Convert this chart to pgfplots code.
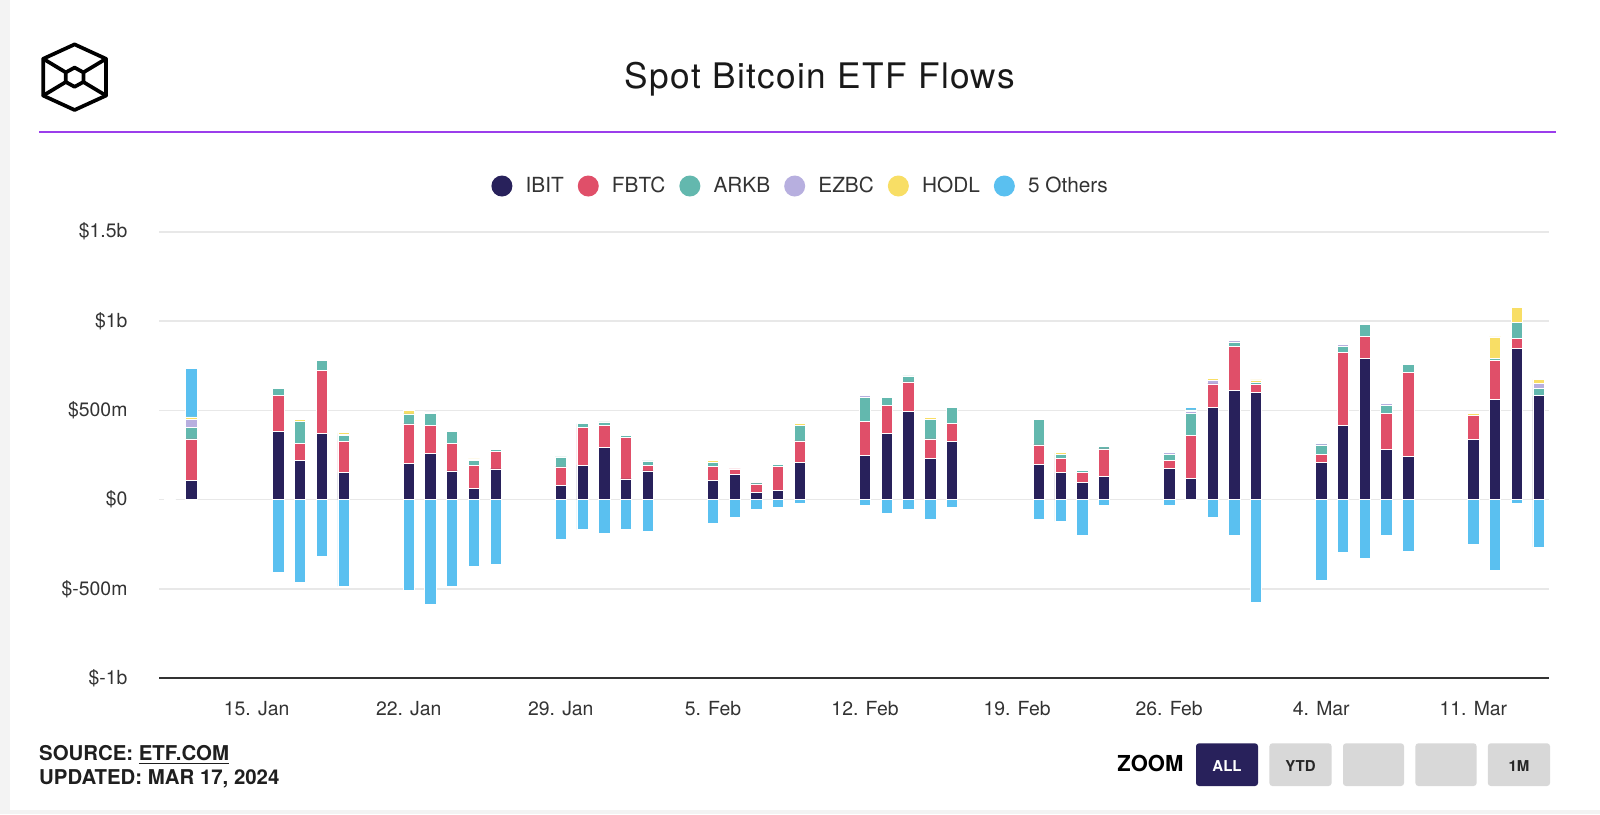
\documentclass[border=0pt]{standalone}
\usepackage{pgfplots}
\pgfplotsset{compat=1.18}
\usepackage{pgfplotstable}
\usepackage{fontspec}
\setmainfont{TeX Gyre Heros}
\definecolor{ibit}{HTML}{28215B}
\definecolor{fbtc}{HTML}{E04F69}
\definecolor{arkb}{HTML}{63B8AE}
\definecolor{ezbc}{HTML}{B7AFDF}
\definecolor{hodl}{HTML}{F8DE65}
\definecolor{others}{HTML}{5AC0F0}
\definecolor{purp}{HTML}{9B3EEB}
\definecolor{txt}{HTML}{333333}
\definecolor{gridc}{HTML}{E8E8E8}
\definecolor{btn}{HTML}{D8D8D8}
\definecolor{pagebg}{HTML}{F3F3F3}

% day = day of year 2024 (Jan 1 = 1), values in $ millions
\pgfplotstableread{
day IBIT FBTC ARKB EZBC HODL OthPos OthNeg
11 0 0 8 0 0 0 0
12 106 234 65 45 13 271 0
16 383 199 43 0 0 0 -407
17 218 99 122 0 9 0 -465
18 370 354 54 0 0 0 -319
19 151 176 33 7 8 0 -485
22 205 219 56 0 20 0 -510
23 261 153 68 9 0 0 -586
24 161 154 68 0 0 0 -487
25 62 132 24 0 10 0 -375
26 172 99 11 0 0 0 -364
29 82 101 56 0 0 0 -222
30 194 209 23 0 0 0 -168
31 291 123 21 0 0 0 -190
32 116 231 11 0 0 0 -168
33 161 33 23 0 0 0 -180
36 106 81 22 0 9 0 -131
37 140 32 0 0 0 0 -99
38 39 49 9 0 0 0 -54
39 50 137 9 0 0 0 -43
40 207 122 87 0 10 0 -21
43 250 189 132 11 0 0 -32
44 372 154 45 0 0 0 -75
45 493 166 34 0 0 0 -54
46 230 110 110 0 11 0 -108
47 325 101 89 0 0 0 -43
51 196 110 144 0 0 0 -110
52 151 81 20 0 11 0 -121
53 95 58 9 0 0 0 -200
54 129 155 13 0 0 0 -32
57 174 44 34 11 0 0 -32
58 118 242 124 9 9 13 0
59 515 133 0 20 11 0 -99
60 612 245 24 10 0 0 -200
61 601 45 9 0 15 0 -573
64 207 47 52 10 0 0 -452
65 416 409 35 9 0 0 -297
66 790 122 67 0 0 0 -330
67 282 200 44 12 0 0 -200
68 241 472 43 0 0 0 -288
71 338 132 0 0 11 0 -252
72 560 220 10 0 121 0 -396
73 846 56 88 0 85 0 -22
74 583 0 42 25 22 0 -265
}\flows

\begin{document}
\begin{tikzpicture}
\begin{scope}[x=1pt,y=1pt]
\path[use as bounding box, fill=pagebg] (0,0) rectangle (800,407);
\fill[white] (5,2) rectangle (800,407);
% logo
\begin{scope}[shift={(37.3,368.4)}, line width=1.85pt, line join=round, line cap=round]
\draw (0,16.4) -- (15.7,9.2) -- (15.7,-9.2) -- (0,-16.4) -- (-15.7,-9.2) -- (-15.7,9.2) -- cycle;
\draw (0,4.8) -- (4.4,2.4) -- (4.4,-2.4) -- (0,-4.8) -- (-4.4,-2.4) -- (-4.4,2.4) -- cycle;
\draw (-15.7,9.2) -- (-4.4,2.4);
\draw (15.7,9.2) -- (4.4,2.4);
\draw (-15.7,-9.2) -- (-4.4,-2.4);
\draw (15.7,-9.2) -- (4.4,-2.4);
\end{scope}
% title
\node[anchor=base, inner sep=0, text={black!90}, font=\fontsize{17.6pt}{21pt}\selectfont\addfontfeature{LetterSpace=4}] at (410,362.5) {Spot Bitcoin ETF Flows};
\draw[purp, line width=1pt] (19.65,341.15) -- (778,341.15);
% footer
\node[anchor=base west, inner sep=0, text={black!88}, font=\bfseries\fontsize{10.2pt}{12pt}\selectfont] at (19.4,27) {SOURCE: \underline{ETF.COM}};
\node[anchor=base west, inner sep=0, text={black!88}, font=\bfseries\fontsize{10.2pt}{12pt}\selectfont] at (19.4,15) {UPDATED: MAR 17, 2024};
\node[anchor=base west, inner sep=0, text=black, font=\bfseries\fontsize{11pt}{13pt}\selectfont] at (558.5,21.15) {ZOOM};
\fill[ibit, rounded corners=1.5pt] (598,14) rectangle (629,35.35);
\fill[btn, rounded corners=1.5pt] (634.7,14) rectangle (665.8,35.35);
\fill[btn, rounded corners=1.5pt] (671.5,14) rectangle (702,35.35);
\fill[btn, rounded corners=1.5pt] (707.7,14) rectangle (738.3,35.35);
\fill[btn, rounded corners=1.5pt] (743.9,14) rectangle (775,35.35);
\node[anchor=base, inner sep=0, text=white, font=\bfseries\fontsize{7.5pt}{9pt}\selectfont] at (613.5,21.15) {ALL};
\node[anchor=base, inner sep=0, text={black!85}, font=\bfseries\fontsize{7.5pt}{9pt}\selectfont] at (650.25,21.15) {YTD};
\node[anchor=base, inner sep=0, text={black!85}, font=\bfseries\fontsize{7.5pt}{9pt}\selectfont] at (759.45,21.15) {1M};
\end{scope}

\begin{axis}[
  at={(79.65pt,67.85pt)}, anchor=south west,
  scale only axis, width=694.85pt, height=223.3pt,
  xmin=10.52, xmax=74.48, ymin=-1000, ymax=1500,
  ybar stacked, bar width=0.52,
  separate axis lines,
  axis x line*=bottom, axis y line*=left,
  y axis line style={draw=none},
  x axis line style={draw=txt, line width=1pt},
  ytick={-1000,-500,0,500,1000,1500},
  yticklabels={\$-1b,\$-500m,\$0,\$500m,\$1b,\$1.5b},
  ymajorgrids, grid style={gridc, line width=0.8pt},
  xtick={15,22,29,36,43,50,57,64,71},
  xticklabels={15. Jan,22. Jan,29. Jan,5. Feb,12. Feb,19. Feb,26. Feb,4. Mar,11. Mar},
  major tick length=0pt,
  tick label style={font=\fontsize{9.7pt}{11pt}\selectfont, text=txt},
  yticklabel style={xshift=-12.4pt},
  xticklabel style={yshift=-8.2pt},
  every axis plot/.append style={draw=white, line width=0.35pt},
  legend columns=6,
  legend style={draw=none, fill=none, at={(0.4622,1.1023)}, anchor=center,
    font=\fontsize{10.4pt}{12pt}\selectfont, text=txt,
    /tikz/every odd column/.append style={column sep=4.6pt},
    /tikz/every even column/.append style={column sep=5pt}},
  legend image code/.code={\fill[#1, draw=none] (5.25pt,0pt) circle (5.25pt);},
]
\addplot[fill=ibit] table[x=day,y=IBIT]{\flows};
\addlegendentry{IBIT}
\addplot[fill=fbtc] table[x=day,y=FBTC]{\flows};
\addlegendentry{FBTC}
\addplot[fill=arkb] table[x=day,y=ARKB]{\flows};
\addlegendentry{ARKB}
\addplot[fill=ezbc] table[x=day,y=EZBC]{\flows};
\addlegendentry{EZBC}
\addplot[fill=hodl] table[x=day,y=HODL]{\flows};
\addlegendentry{HODL}
\addplot[fill=others] table[x=day,y=OthPos]{\flows};
\addlegendentry{5 Others}
\end{axis}

\begin{axis}[
  at={(79.65pt,67.85pt)}, anchor=south west,
  scale only axis, width=694.85pt, height=223.3pt,
  xmin=10.52, xmax=74.48, ymin=-1000, ymax=1500,
  axis lines=none, ybar, bar width=0.52, bar shift=0pt,
]
\addplot[fill=others, draw=white, line width=0.35pt] table[x=day,y=OthNeg]{\flows};
\end{axis}
\end{tikzpicture}
\end{document}
